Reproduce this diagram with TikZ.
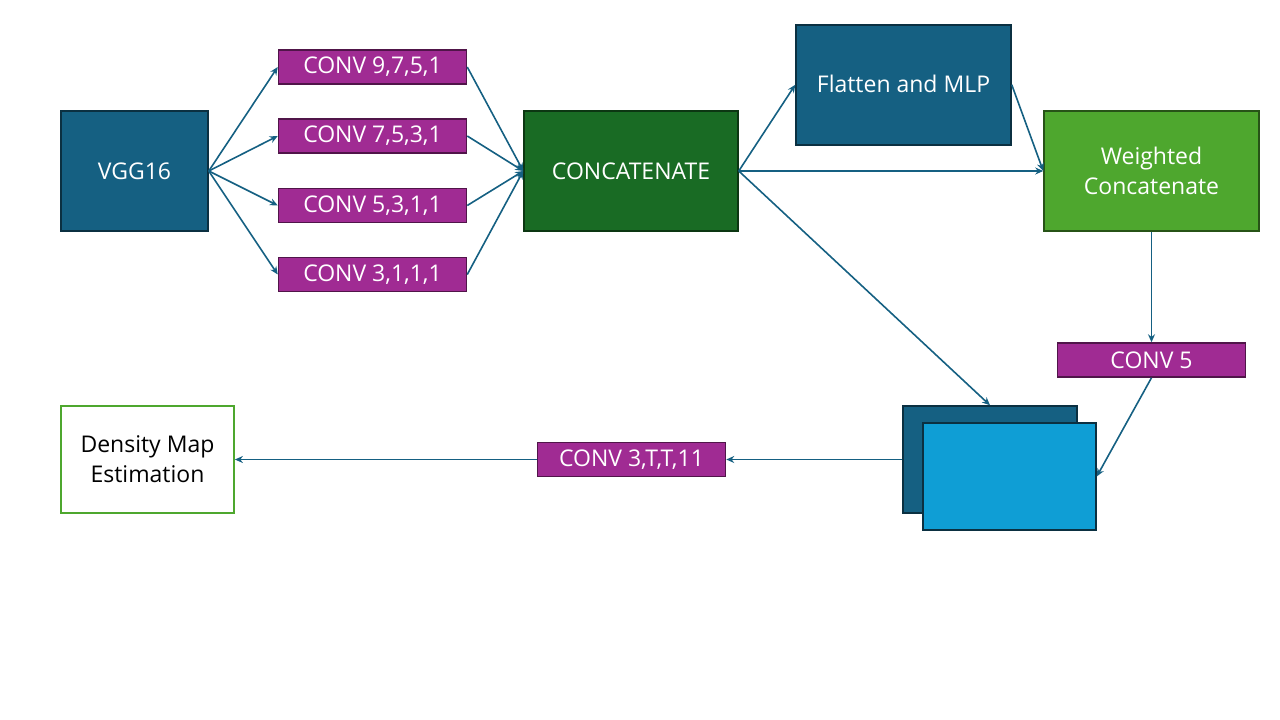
\documentclass[tikz,border=0pt]{standalone}
\usepackage{fontspec}
\setmainfont{Open Sans}
\usetikzlibrary{arrows.meta}
\definecolor{dblue}{HTML}{156082}
\definecolor{dblueb}{HTML}{0B3041}
\definecolor{purp}{HTML}{A02B93}
\definecolor{purpb}{HTML}{501549}
\definecolor{dgreen}{HTML}{196B24}
\definecolor{dgreenb}{HTML}{0C3612}
\definecolor{lgreen}{HTML}{4EA72E}
\definecolor{lgreenb}{HTML}{275317}
\definecolor{lblue}{HTML}{0F9ED5}
\tikzset{
  box/.style={draw, line width=1.5pt, minimum width=#1, inner sep=0pt, align=center, text=white},
  bluebox/.style={box=#1, fill=dblue, draw=dblueb},
  convbox/.style={box=188pt, minimum height=34pt, fill=purp, draw=purpb, font=\fontsize{23}{26}\selectfont},
  greenbox/.style={box=#1, fill=dgreen, draw=dgreenb},
  conn/.style={draw=dblue, line width=1.6pt, -{Stealth[length=8pt,width=7pt]}},
  big/.style={font=\fontsize{23}{30}\selectfont}
}
\begin{document}
\begin{tikzpicture}[x=1pt,y=-1pt]
\useasboundingbox (0,0) rectangle (1280,720);
% nodes
\node[bluebox=147pt, minimum height=120pt, big] (vgg) at (134.5,171) {VGG16};
\node[convbox] (c1) at (372.5,67) {CONV 9,7,5,1};
\node[convbox] (c2) at (372.5,136) {CONV 7,5,3,1};
\node[convbox] (c3) at (372.5,205.5) {CONV 5,3,1,1};
\node[convbox] (c4) at (372.5,274.5) {CONV 3,1,1,1};
\node[greenbox=214pt, minimum height=120pt, big] (cat) at (631,171) {CONCATENATE};
\node[bluebox=215pt, minimum height=120pt, big, anchor=north] (mlp) at (903.5,24) {};
\node[big, text=white] (mlptxt) at (903.5,84) {Flatten and MLP};
\node[box=215pt, minimum height=120pt, fill=lgreen, draw=lgreenb, big] (wc) at (1151.5,171) {Weighted\\Concatenate};
\node[convbox] (c5) at (1151.5,360) {CONV 5};
\node[box=174pt, minimum height=107pt, fill=dblue, draw=dblueb] (back) at (990,459.5) {};
\node[box=173pt, minimum height=107pt, fill=lblue, draw=dblueb] (front) at (1009.5,476.5) {};
\node[convbox] (c6) at (631.5,459.5) {CONV 3,T,T,11};
\node[box=173pt, minimum height=107pt, fill=white, draw=lgreen, line width=1.8pt, text=black, big] (dm) at (147.5,459.5) {Density Map\\Estimation};
% connectors
\foreach \c in {c1,c2,c3,c4}{
  \draw[conn] (vgg.east) -- (\c.west);
  \draw[conn] (\c.east) -- (cat.west);
}
\draw[conn] (cat.east) -- (mlp.west);
\draw[conn] (cat.east) -- (wc.west);
\draw[conn] (mlp.east) -- (wc.west);
\draw[conn] (cat.east) -- (back.north);
\draw[conn] (wc.south) -- (c5.north);
\draw[conn] (c5.south) -- (front.east);
\draw[conn] (back.west) -- (c6.east);
\draw[conn] (c6.west) -- (dm.east);
\end{tikzpicture}
\end{document}
